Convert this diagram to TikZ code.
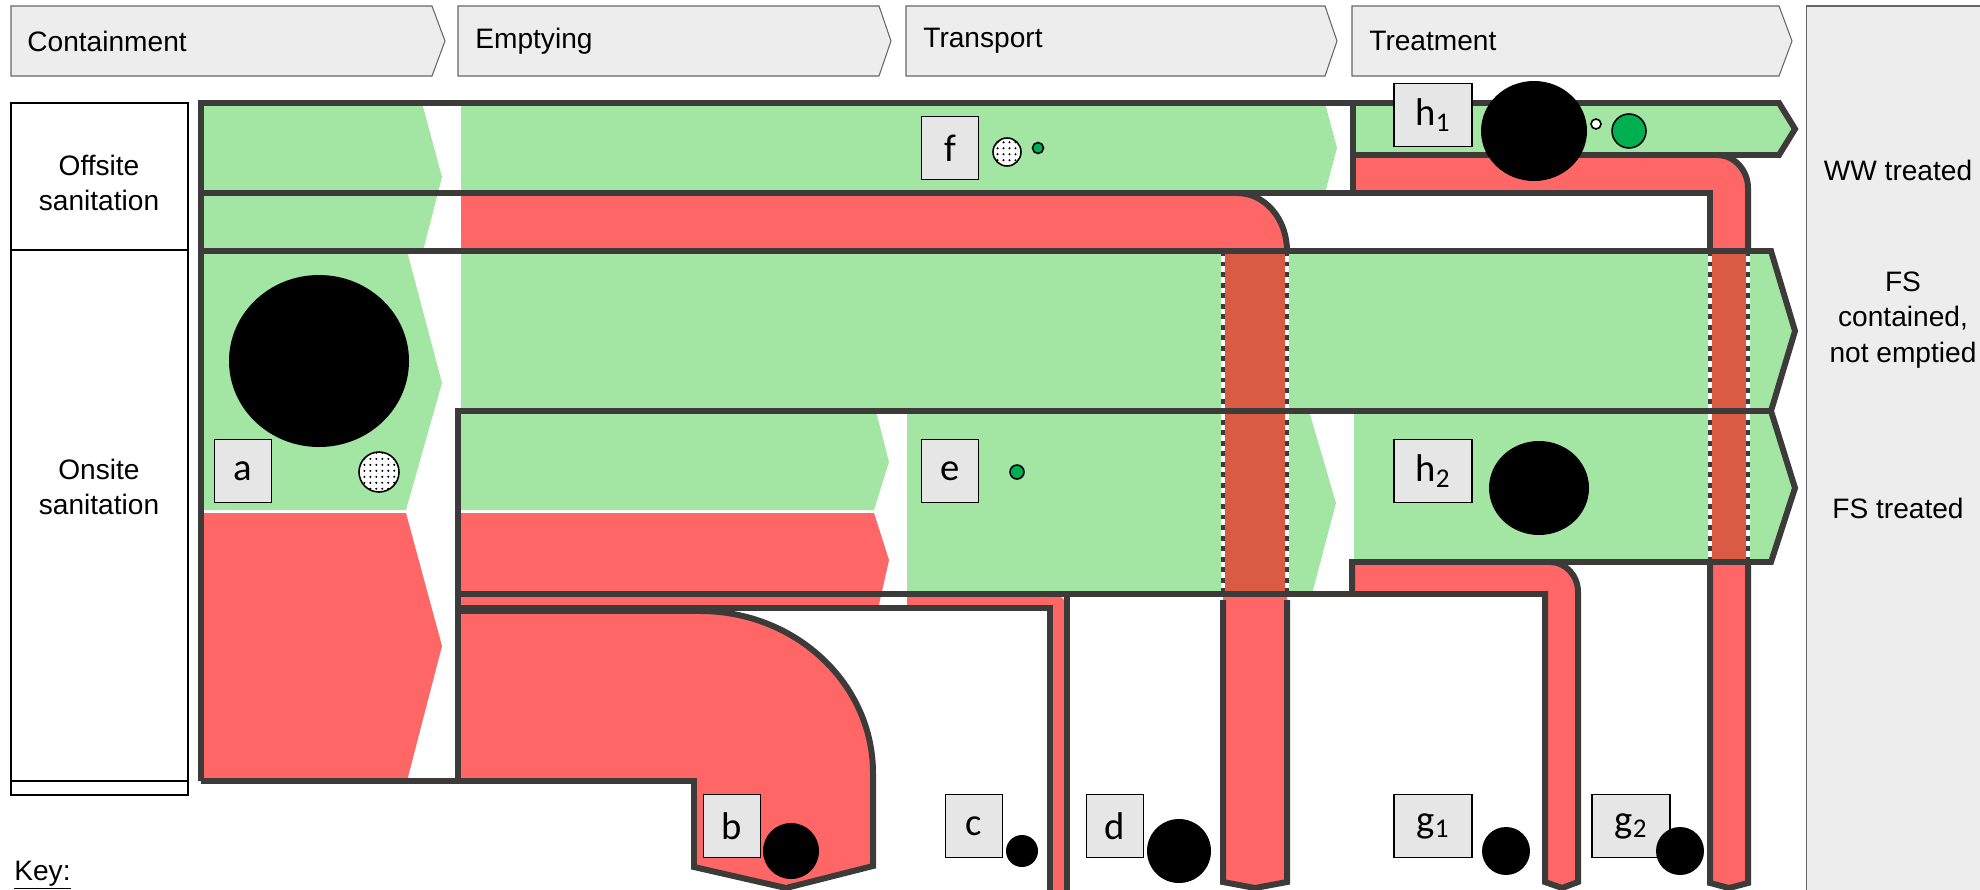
\documentclass[tikz,border=0pt]{standalone}
\usepackage{fontspec}
\setmainfont{Liberation Sans}
\newfontfamily\lblfont{Carlito}
\usetikzlibrary{patterns}
\pgfdeclarepatternformonly{sfddots}{\pgfqpoint{-1pt}{-1pt}}{\pgfqpoint{1pt}{1pt}}{\pgfqpoint{3.4pt}{3.4pt}}{\pgfpathcircle{\pgfpointorigin}{0.65pt}\pgfusepath{fill}}
\definecolor{sfdgreen}{RGB}{163,230,163}
\definecolor{sfdred}{RGB}{255,102,102}
\definecolor{sfdpipe}{RGB}{217,91,67}
\definecolor{sfdline}{RGB}{61,59,57}
\definecolor{hdrgray}{RGB}{237,237,237}
\definecolor{boxgray}{RGB}{230,230,230}
\definecolor{dotgreen}{RGB}{0,176,80}

\begin{document}
\begin{tikzpicture}[x=0.02cm, y=-0.02cm,
            every node/.style = {font=\fontsize{16}{20}\selectfont, inner sep=0pt},
            hdr/.style = {draw=black!60, fill=hdrgray, line width=0.6pt},
            rowbox/.style = {draw=black, line width=1pt},
            wall/.style = {draw=sfdline, line width=3.4pt},
            crossline/.style = {draw=white, line width=2.2pt},
            crossdash/.style = {draw=sfdline, line width=2.2pt, dash pattern=on 2.8pt off 3.2pt},
            lab/.style = {draw=black, fill=boxgray, line width=0.8pt, minimum width=32.4pt, minimum height=35.9pt, font=\fontsize{22}{22}\selectfont\lblfont},
            labw/.style = {lab, minimum width=44.4pt},
            spot/.style = {draw=black, line width=0.9pt, fill=white, postaction={pattern=sfddots}},
            gdot/.style = {draw=black, line width=0.9pt, fill=dotgreen}
        ]
        \useasboundingbox (0,0) rectangle (1980,889);
        \draw[hdr] (11,6) -- (432,6) -- (445,41) -- (432,76) -- (11,76) -- cycle;
        \draw[hdr] (458,6) -- (879,6) -- (891,41) -- (879,76) -- (458,76) -- cycle;
        \draw[hdr] (906,6) -- (1325,6) -- (1337,41) -- (1325,76) -- (906,76) -- cycle;
        \draw[hdr] (1352,6) -- (1779,6) -- (1792,41) -- (1779,76) -- (1352,76) -- cycle;
        \draw[hdr] (1806,6) rectangle (1995,900);
        \node[anchor=west] (hC) at (27,41) {Containment};
        \node[anchor=west] (hE) at (475,41) {Emptying};
        \node[anchor=west] (hT) at (923,41) {Transport};
        \node[anchor=west] (hR) at (1369,41) {Treatment};

        \draw[rowbox] (11,103) rectangle (188,250);
        \draw[rowbox] (11,250) rectangle (188,781);
        \draw[rowbox] (11,781) rectangle (188,795);
        \node[align=center] (rOff) at (99,183) {Offsite\\sanitation};
        \node[align=center] (rOn) at (99,487) {Onsite\\sanitation};

        \fill[sfdgreen] (201,103) -- (422,103) -- (442,177) -- (423,251) -- (201,251) -- cycle;
        \fill[sfdgreen] (461,103) -- (1325,103) -- (1337,148) -- (1325,193) -- (461,193) -- cycle;
        \fill[sfdgreen] (1353,103) -- (1779,103) -- (1795,129) -- (1779,155) -- (1353,155) -- cycle;
        \fill[sfdgreen] (201,251) -- (407,251) -- (442,383) -- (406,510) -- (201,510) -- cycle;
        \fill[sfdgreen] (461,251) -- (1771,251) -- (1795,331) -- (1771,411) -- (461,411) -- cycle;
        \fill[sfdgreen] (461,411) -- (876,411) -- (889,462) -- (874,510) -- (461,510) -- cycle;
        \fill[sfdgreen] (907,411) -- (1309,411) -- (1336,503) -- (1312,594) -- (907,594) -- cycle;
        \fill[sfdgreen] (1354,411) -- (1771,411) -- (1795,488) -- (1771,562) -- (1354,562) -- cycle;

        \fill[sfdred] (201,513) -- (406,513) -- (442,646) -- (407,781) -- (201,781) -- cycle;
        \fill[sfdred] (461,513) -- (874,513) -- (889,560) -- (878,609) -- (461,609) -- cycle;
        \fill[sfdred] (461,193) -- (1237,193) .. controls (1265,193) and (1287,219) .. (1287,250) -- (1287,882) -- (1255,888) -- (1223,882) -- (1223,251) -- (461,251) -- cycle;
        \fill[sfdred] (907,594) -- (1058,594) -- (1067,603) -- (1067,895) -- (1050,895) -- (1050,609) -- (907,609) -- cycle;
        \fill[sfdred] (1352,562) -- (1550,562) .. controls (1565,562) and (1578,575) .. (1578,592) -- (1578,882) -- (1562,888) -- (1545,882) -- (1545,594) -- (1352,594) -- cycle;
        \fill[sfdred] (458,611) -- (700,611) .. controls (796,611) and (873,684) .. (873,773) -- (873,866) -- (786,888) -- (694,867) -- (694,781) -- (458,781) -- cycle;
        \fill[sfdred] (1353,155) -- (1717,155) .. controls (1734,155) and (1748,170) .. (1748,188) -- (1748,883) -- (1729,888) -- (1710,883) -- (1710,193) -- (1353,193) -- cycle;

        \fill[sfdpipe] (1223,251) rectangle (1287,594);
        \fill[sfdpipe] (1710,251) rectangle (1748,562);
        \draw[crossline] (1223,251) -- (1223,594) (1287,251) -- (1287,594) (1710,251) -- (1710,562) (1748,251) -- (1748,562);
        \draw[crossdash] (1223,251) -- (1223,594) (1287,251) -- (1287,594) (1710,251) -- (1710,562) (1748,251) -- (1748,562);

        \draw[wall] (201,781) -- (201,103) -- (1779,103) -- (1795,129) -- (1779,155) -- (1353,155);
        \draw[wall] (1353,103) -- (1353,193);
        \draw[wall] (201,193) -- (1710,193) -- (1710,251);
        \draw[wall] (1237,193) .. controls (1265,193) and (1287,219) .. (1287,251);
        \draw[wall] (1717,155) .. controls (1734,155) and (1748,170) .. (1748,188) -- (1748,251);
        \draw[wall] (201,251) -- (1771,251) -- (1795,331) -- (1771,411) -- (1795,488) -- (1771,562) -- (1352,562) -- (1352,594);
        \draw[wall] (1771,411) -- (458,411) -- (458,781);
        \draw[wall] (201,781) -- (694,781) -- (694,867) -- (786,888) -- (873,866) -- (873,773) .. controls (873,684) and (796,611) .. (700,611) -- (458,611);
        \draw[wall] (458,594) -- (1545,594) -- (1545,882) -- (1562,888) -- (1578,882) -- (1578,592) .. controls (1578,575) and (1565,562) .. (1550,562);
        \draw[wall] (458,608) -- (1050,608) -- (1050,895);
        \draw[wall] (1067,596) -- (1067,895);
        \draw[wall] (1223,600) -- (1223,882) -- (1255,888) -- (1287,882) -- (1287,600);
        \draw[wall] (1710,562) -- (1710,883) -- (1729,888) -- (1748,883) -- (1748,562);

        \node[lab] (La) at (243,471) {a};
        \node[lab] (Le) at (950,471) {e};
        \node[lab] (Lf) at (950,148) {f};
        \node[labw] (Lh1) at (1433,115) {h\textsubscript{1}};
        \node[labw] (Lh2) at (1433,471) {h\textsubscript{2}};
        \node[lab] (Lb) at (732,826) {b};
        \node[lab] (Lc) at (974,826) {c};
        \node[lab] (Ld) at (1115,826) {d};
        \node[labw] (Lg1) at (1433,826) {g\textsubscript{1}};
        \node[labw] (Lg2) at (1631,826) {g\textsubscript{2}};

        \fill (319,361) ellipse [x radius=90, y radius=86];
        \draw[spot] (379,472) ellipse [x radius=20, y radius=20];
        \fill (791,851) ellipse [x radius=28, y radius=28];
        \fill (1022,851) ellipse [x radius=16, y radius=16];
        \fill (1179,851) ellipse [x radius=32, y radius=32];
        \fill (1506,851) ellipse [x radius=24, y radius=24];
        \fill (1680,851) ellipse [x radius=24, y radius=24];
        \fill (1534,131) ellipse [x radius=53, y radius=50];
        \fill (1539,488) ellipse [x radius=50, y radius=47];
        \draw[gdot] (1017,472) ellipse [x radius=7, y radius=7];
        \draw[spot] (1007,152) ellipse [x radius=14, y radius=14];
        \draw[gdot] (1038,148) ellipse [x radius=5.5, y radius=5.5];
        \draw[draw=black, line width=0.9pt, fill=white] (1596,124) ellipse [x radius=5, y radius=5];
        \draw[gdot] (1629,131) ellipse [x radius=17, y radius=17];

        \node[align=center] (oWW) at (1898,170) {WW treated};
        \node[align=center] (oFSc) at (1903,320) {FS\\contained,\\not emptied};
        \node[align=center] (oFSt) at (1898,508) {FS treated};
        \node[anchor=base west] (key) at (14,880) {\underline{Key:}};
    \end{tikzpicture}
\end{document}
